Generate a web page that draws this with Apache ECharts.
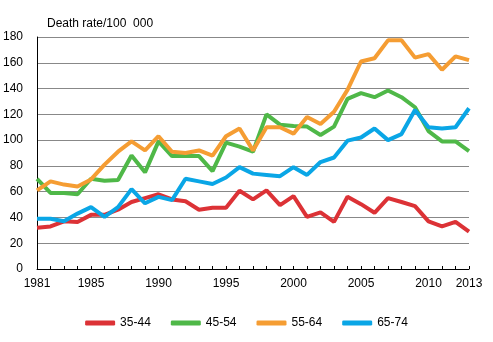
<!DOCTYPE html>
<html>
<head>
<meta charset="utf-8">
<script src="https://cdn.jsdelivr.net/npm/echarts@6/dist/echarts.min.js"></script>
<style>
html,body{margin:0;padding:0;background:#fff;}
#chart{width:493px;height:342px;}
</style>
</head>
<body>
<div id="chart"></div>
<script>
const years = [];
for (let y = 1981; y <= 2013; y++) years.push(String(y));
const labelYears = ['1981','1985','1990','1995','2000','2005','2010','2013'];
const seriesNames = ['35-44','45-54','55-64','65-74'];
const s3544 = [32,33,37,36.5,42,42,46,52,55,58,54,52.6,46,47.5,47.5,60.7,54,61,49.5,56.5,40.5,44,36.6,56,50.3,43.6,55,52,48.8,37,33,36.6,29];
const s4554 = [70,59,59,58,70,68.5,69,88,75,99,87.6,87.6,87.6,76,98,95,91,120,112,111,110.5,104,110.5,132,136.4,133.3,138.5,133.3,125.5,107,99,99,91.5];
const s5564 = [61,68,65.5,64,69.5,81,91,99,92,103,91,90,92,88,103,109,92,110,110,105,118,112.5,122,139,161,163.5,177.4,177.4,164,166.7,154.6,165,162];
const s6574 = [39,39,37,43,48,40.5,48,62,51,56,53.4,70,68,66,71,79,74,73,72,79,73,83,86.5,99.6,102,109,100,104.7,123.4,110,109,110,124.7];
const colors = ['#dc3236','#4fb848','#f59d33','#0aa6e6'];
const yTitle = 'Death rate/100  000';

const font = '"Liberation Sans", Arial, sans-serif';
const chart = echarts.init(document.getElementById('chart'), null, {renderer:'canvas'});
const data = [s3544, s4554, s5564, s6574];
chart.setOption({
  animation: false,
  color: colors,
  textStyle: {fontFamily: font},
  title: {
    text: yTitle, left: 42, top: 13,
    textStyle: {fontSize: 12, fontWeight: 'normal', color: '#000', fontFamily: font}
  },
  grid: {left: 37, right: 24, top: 37, bottom: 73, containLabel: false},
  legend: {
    bottom: 8, left: 'center',
    itemWidth: 30, itemHeight: 5, itemGap: 20,
    icon: 'roundRect',
    textStyle: {fontSize: 12, color: '#000', fontFamily: font},
    data: seriesNames
  },
  xAxis: {
    type: 'category', data: years, boundaryGap: false,
    axisLine: {lineStyle: {color: '#000', width: 1}},
    axisTick: {show: true, inside: true, length: 3, interval: 0, lineStyle: {color: '#000'}},
    axisLabel: {
      interval: (i, v) => labelYears.indexOf(v) >= 0,
      color: '#000', fontSize: 12, margin: 9, fontFamily: font, showMinLabel: true, showMaxLabel: true
    },
    splitLine: {show: false}
  },
  yAxis: {
    type: 'value', min: 0, max: 180, interval: 20,
    axisLine: {show: true, lineStyle: {color: '#000'}},
    axisTick: {show: false},
    axisLabel: {color: '#000', fontSize: 12, margin: 14, fontFamily: font},
    splitLine: {lineStyle: {color: '#888', width: 1}}
  },
  series: seriesNames.map((n, i) => ({
    name: n, type: 'line', data: data[i], symbol: 'none',
    lineStyle: {width: 4, color: colors[i]},
    itemStyle: {color: colors[i]}
  }))
});
</script>
</body>
</html>
